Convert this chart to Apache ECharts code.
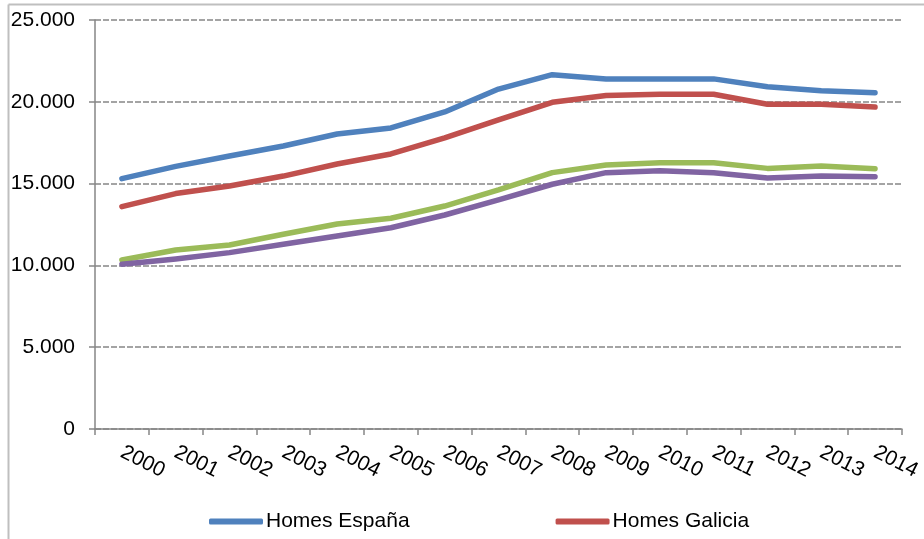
<!DOCTYPE html>
<html>
<head>
<meta charset="utf-8">
<script src="https://cdn.jsdelivr.net/npm/echarts@6/dist/echarts.min.js"></script>
<style>
	html, body { margin: 0; padding: 0; background: #fff; }
	#chart { width: 924px; height: 539px; }
</style>
</head>
<body>
<div id="chart"></div>
<script>
// datos
var anos = ['2000', '2001', '2002', '2003', '2004', '2005', '2006', '2007', '2008', '2009', '2010', '2011', '2012', '2013', '2014'];
var homesEspana = [15300, 16050, 16690, 17300, 18030, 18400, 19380, 20780, 21660, 21400, 21400, 21400, 20920, 20680, 20560];
var homesGalicia = [13590, 14390, 14850, 15460, 16200, 16810, 17790, 18890, 19970, 20380, 20460, 20460, 19850, 19850, 19680];
var mulleresEspana = [10330, 10940, 11250, 11900, 12530, 12880, 13630, 14610, 15670, 16140, 16280, 16280, 15930, 16080, 15910];
var mulleresGalicia = [10070, 10390, 10780, 11290, 11800, 12300, 13080, 14000, 14960, 15670, 15790, 15670, 15340, 15460, 15420];

var cores = ['#4F81BD', '#C0504D', '#9BBB59', '#8064A2'];

function formatoMiles(v) {
	return String(v).replace(/\B(?=(\d{3})+(?!\d))/g, '.');
}

function serie(nome, datos, cor) {
	return {
		name: nome,
		type: 'line',
		data: datos,
		symbol: 'none',
		smooth: false,
		lineStyle: { width: 5.5, color: cor, cap: 'round', join: 'round' },
		itemStyle: { color: cor }
	};
}

var chart = echarts.init(document.getElementById('chart'));
var opt = {
	animation: false,
	textStyle: { fontFamily: 'Liberation Sans, Arial, sans-serif' },
	graphic: [
		{ type: 'line', shape: { x1: 8.5, y1: 4.5, x2: 924, y2: 4.5 }, style: { stroke: '#bfbfbf', lineWidth: 2 }, silent: true },
		{ type: 'line', shape: { x1: 8.5, y1: 4.5, x2: 8.5, y2: 539 }, style: { stroke: '#bfbfbf', lineWidth: 2 }, silent: true }
	],
	grid: { left: 95, right: 19, top: 20, bottom: 110 },
	legend: {
		data: ['Homes España', 'Homes Galicia'],
		left: 204,
		top: 506,
		icon: 'roundRect',
		itemWidth: 54,
		itemHeight: 6,
		itemGap: 146,
		textStyle: { fontSize: 21, color: '#000', fontFamily: 'Liberation Sans, Arial, sans-serif', padding: [0, 0, 0, -2] }
	},
	xAxis: {
		type: 'category',
		data: anos,
		boundaryGap: true,
		axisLine: { lineStyle: { color: '#868686', width: 1.5 } },
		axisTick: { show: true, length: 6, lineStyle: { color: '#868686', width: 1.5 } },
		axisLabel: { rotate: -27, fontSize: 21, color: '#000', margin: 22, interval: 0 }
	},
	yAxis: {
		type: 'value',
		min: 0,
		max: 25000,
		interval: 5000,
		axisLine: { show: true, lineStyle: { color: '#868686', width: 1.5 } },
		axisTick: { show: true, length: 6, lineStyle: { color: '#868686', width: 1.5 } },
		axisLabel: { fontSize: 21, color: '#000', margin: 20, formatter: formatoMiles },
		splitLine: { lineStyle: { color: '#868686', type: [6, 2], width: 1.5 } }
	},
	series: [
		serie('Homes España', homesEspana, cores[0]),
		serie('Homes Galicia', homesGalicia, cores[1]),
		serie('Mulleres España', mulleresEspana, cores[2]),
		serie('Mulleres Galicia', mulleresGalicia, cores[3])
	]
};
chart.setOption(opt);
</script>
</body>
</html>
